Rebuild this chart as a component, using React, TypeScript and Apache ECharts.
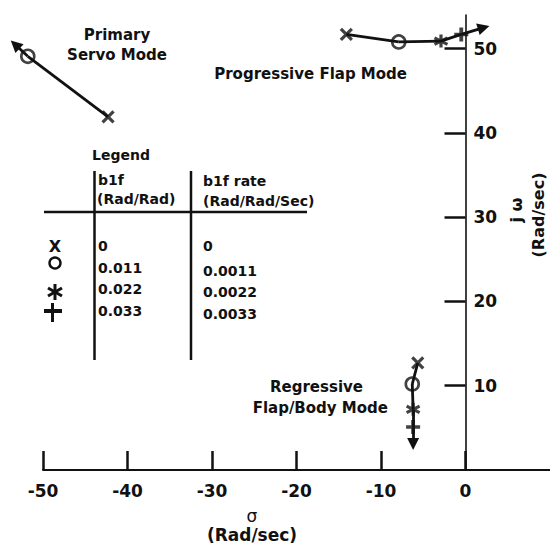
import React, { useEffect, useRef } from "react";
import * as echarts from "echarts";

// Axis ticks
const SIGMA_TICKS = [-50, -40, -30, -20, -10, 0];
const JW_TICKS = [10, 20, 30, 40, 50];

// Feedback gains (legend rows, in order X, O, *, +)
const B1F_GAIN = ["0", "0.011", "0.022", "0.033"];
const B1F_RATE = ["0", "0.0011", "0.0022", "0.0033"];

// Root locations (sigma, j-omega) per gain step
const primaryRe = [-42.3, -51.8];
const primaryIm = [41.9, 49.1];
const primaryEnd = [-53.3, 50.5];

const progressiveRe = [-14.1, -7.9, -2.9, -0.5];
const progressiveIm = [51.7, 50.8, 50.9, 51.7];
const progressiveEnd = [2.15, 52.5];

const regressiveRe = [-5.65, -6.3, -6.2, -6.2];
const regressiveIm = [12.7, 10.2, 7.2, 5.1];
const regressiveEnd = [-6.2, 3.1];

const FONT = "DejaVu Sans";
const INK = "#111";

const SYMBOLS = [
  "path://M0,0L10,10M10,0L0,10",
  "circle",
  "path://M5,0L5,10M0.67,2.5L9.33,7.5M9.33,2.5L0.67,7.5",
  "path://M4,0H7V4.5H11V7.5H7V12H4V7.5H0V4.5H4Z",
];
const SYMBOL_SIZES = [11, 13, 13, 14];

const X_MIN = -50;
const X_MAX = 10;
const Y_MIN = 0;
const Y_MAX = 54;

function pts(re: number[], im: number[]) {
  return re.map((r, i) => [r, im[i]]);
}

export default function App() {
  const ref = useRef<HTMLDivElement>(null);

  useEffect(() => {
    if (!ref.current) return;
    const chart = echarts.init(ref.current, null, { renderer: "svg" });

    const loci = [
      { p: pts(primaryRe, primaryIm), end: primaryEnd },
      { p: pts(progressiveRe, progressiveIm), end: progressiveEnd },
      { p: pts(regressiveRe, regressiveIm), end: regressiveEnd },
    ];

    const bodySegments: any[] = [];
    const arrowSegments: any[] = [];
    loci.forEach((l) => {
      for (let i = 0; i < l.p.length - 1; i++) {
        bodySegments.push({ coords: [l.p[i], l.p[i + 1]] });
      }
      arrowSegments.push({ coords: [l.p[l.p.length - 1], l.end] });
    });

    const markerSeries = SYMBOLS.map((sym, k) => ({
      type: "scatter",
      clip: false,
      symbol: sym,
      symbolSize: SYMBOL_SIZES[k],
      z: 5,
      itemStyle: {
        color: k === 3 ? INK : "rgba(0,0,0,0)",
        borderColor: INK,
        borderWidth: k === 3 ? 0 : k === 1 ? 2.6 : 3.2,
      },
      data: loci.filter((l) => l.p[k]).map((l) => l.p[k]),
    }));

    const txt = (
      text: string,
      x: number,
      y: number,
      size: number,
      align = "left",
      weight = "bold",
      extra: any = {}
    ) => ({
      type: "text",
      x,
      y,
      z: 10,
      ...extra,
      style: {
        text,
        fill: INK,
        fontFamily: FONT,
        fontSize: size,
        fontWeight: weight,
        align,
        textAlign: align,
        verticalAlign: "middle",
        textVerticalAlign: "middle",
        lineHeight: size + 5,
      },
    });

    const ln = (x1: number, y1: number, x2: number, y2: number, w: number) => ({
      type: "line",
      z: 10,
      shape: { x1, y1, x2, y2 },
      style: { stroke: INK, lineWidth: w },
    });

    const legendRows = B1F_GAIN.map((g, i) =>
      txt(g, 98, 246 + i * 21.5, 14)
    );
    const rateRows = B1F_RATE.map((g, i) =>
      txt(g, 203, i === 0 ? 246 : 249 + i * 21.5, 14)
    );

    const graphic: any[] = [
      // annotations
      txt("Primary\nServo Mode", 117, 45, 15, "center"),
      txt("Progressive Flap Mode", 407, 74, 15, "right"),
      txt("Regressive", 363, 387, 15, "right"),
      txt("Flap/Body Mode", 388, 408, 15, "right"),
      // axis titles
      txt("σ", 252, 516, 17, "center", "normal"),
      txt("(Rad/sec)", 252, 535, 17, "center"),
      txt("j ω", 516, 210, 16, "center", "bold", { rotation: Math.PI / 2 }),
      txt("(Rad/sec)", 538, 215, 16, "center", "bold", { rotation: Math.PI / 2 }),
      // legend table
      txt("Legend", 92, 155, 14),
      txt("b1f", 98, 180, 14),
      txt("(Rad/Rad)", 97, 199, 14),
      txt("b1f rate", 203, 181, 14),
      txt("(Rad/Rad/Sec)", 203, 201, 14),
      ln(94.5, 171, 94.5, 360, 2.5),
      ln(191, 171, 191, 360, 2.5),
      ln(44, 212, 307, 212, 2.5),
      ...legendRows,
      ...rateRows,
      txt("X", 55, 246, 16, "center"),
      {
        type: "circle",
        z: 10,
        shape: { cx: 55, cy: 263, r: 5.5 },
        style: { fill: "none", stroke: INK, lineWidth: 2.4 },
      },
      ln(55, 284, 55, 300, 3),
      ln(48, 288, 62, 296, 3),
      ln(62, 288, 48, 296, 3),
      ln(44, 311, 62, 311, 4),
      ln(52.5, 303, 52.5, 322, 3),
    ];

    const GRID_LEFT = 43;
    const GRID_W = 550 - GRID_LEFT;
    // right edge of the second grid sits on sigma = 0, where the j-omega axis is drawn
    const zeroFromRight = (GRID_W * (X_MAX - 0)) / (X_MAX - X_MIN);

    const labelFont = {
      color: INK,
      fontFamily: FONT,
      fontWeight: "bold",
      fontSize: 17,
    };

    chart.setOption({
      animation: false,
      backgroundColor: "#fff",
      grid: [
        {
          left: GRID_LEFT,
          right: 0,
          top: 15,
          bottom: 81,
          containLabel: false,
          outerBoundsMode: "none",
        },
        {
          left: GRID_LEFT,
          right: zeroFromRight,
          top: 15,
          bottom: 81,
          containLabel: false,
          outerBoundsMode: "none",
        },
      ],
      xAxis: [
        {
          type: "value",
          gridIndex: 0,
          min: X_MIN,
          max: X_MAX,
          interval: 10,
          splitLine: { show: false },
          axisLine: { onZero: false, lineStyle: { color: INK, width: 2 } },
          axisTick: {
            inside: true,
            length: 19,
            customValues: SIGMA_TICKS,
            lineStyle: { color: INK, width: 2.5 },
          },
          axisLabel: {
            customValues: SIGMA_TICKS,
            formatter: (v: number) => (v > 0 ? "" : String(v)),
            margin: 12,
            ...labelFont,
          },
        },
        {
          type: "value",
          gridIndex: 1,
          min: X_MIN,
          max: 0,
          show: false,
        },
      ],
      yAxis: [
        {
          type: "value",
          gridIndex: 0,
          min: Y_MIN,
          max: Y_MAX,
          show: false,
        },
        {
          type: "value",
          gridIndex: 1,
          position: "right",
          min: Y_MIN,
          max: Y_MAX,
          interval: 10,
          splitLine: { show: false },
          axisLine: { onZero: false, lineStyle: { color: INK, width: 1.6 } },
          axisTick: {
            inside: true,
            length: 21,
            customValues: JW_TICKS,
            lineStyle: { color: INK, width: 2.5 },
          },
          axisLabel: {
            customValues: JW_TICKS,
            formatter: (v: number) =>
              v > 0 && v % 10 === 0 ? String(v) : "",
            margin: 8,
            ...labelFont,
          },
        },
      ],
      series: [
        {
          type: "lines",
          coordinateSystem: "cartesian2d",
          clip: false,
          symbol: ["none", "none"],
          lineStyle: { color: INK, width: 2.8, opacity: 1 },
          data: bodySegments,
        },
        {
          type: "lines",
          coordinateSystem: "cartesian2d",
          clip: false,
          symbol: ["none", "triangle"],
          symbolSize: [9, 12],
          lineStyle: { color: INK, width: 2.8, opacity: 1 },
          data: arrowSegments,
        },
        ...markerSeries,
      ],
      graphic,
    });

    return () => chart.dispose();
  }, []);

  return (
    <div
      ref={ref}
      style={{ position: "absolute", left: 0, top: 0, width: 550, height: 551 }}
    />
  );
}
